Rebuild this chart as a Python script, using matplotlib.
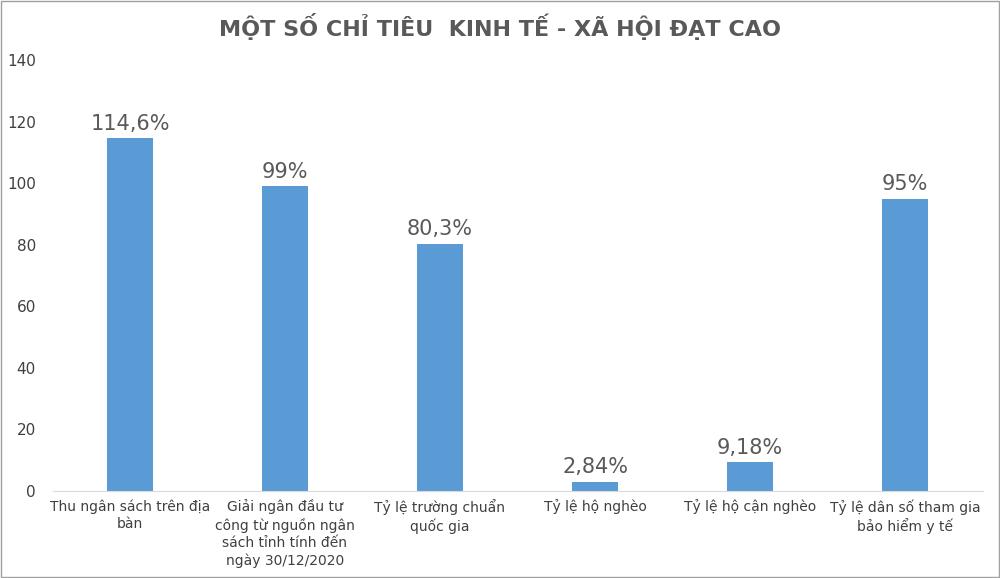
import matplotlib
matplotlib.use("Agg")
import matplotlib.pyplot as plt
from matplotlib.patches import Rectangle

categories = ["Thu ngân sách trên địa\nbàn",
              "Giải ngân đầu tư\ncông từ nguồn ngân\nsách tỉnh tính đến\nngày 30/12/2020",
              "Tỷ lệ trường chuẩn\nquốc gia",
              "Tỷ lệ hộ nghèo",
              "Tỷ lệ hộ cận nghèo",
              "Tỷ lệ dân số tham gia\nbảo hiểm y tế"]
values = [114.6, 99, 80.3, 2.84, 9.18, 95]
labels = ["114,6%", "99%", "80,3%", "2,84%", "9,18%", "95%"]
yticks = [0, 20, 40, 60, 80, 100, 120, 140]

plt.rcParams['font.family'] = ['DejaVu Sans']
fig = plt.figure(figsize=(10, 5.78), dpi=100)
fig.patches.append(Rectangle((0.001, 0.001), 0.998, 0.998, transform=fig.transFigure,
                             fill=False, edgecolor='#a0a0a0', lw=1))
ax = fig.add_axes([0.0525, 0.151, 0.93, 0.745])
x = range(len(values))
ax.bar(x, values, width=0.30, color='#5b9bd5')
for i, (v, l) in enumerate(zip(values, labels)):
    ax.text(i, v + 1.5, l, ha='center', va='bottom', fontsize=15, color='#595959')
ax.set_xlim(-0.5, 5.5)
ax.set_ylim(0, 140)
ax.set_yticks(yticks)
ax.set_xticks(list(x))
ax.set_xticklabels(categories, fontsize=10, color='#404040', va='top', linespacing=1.3)
ax.tick_params(axis='y', labelsize=11, colors='#404040', length=0, pad=12)
ax.tick_params(axis='x', length=0, pad=6)
for s in ['top', 'right', 'left']:
    ax.spines[s].set_visible(False)
ax.spines['bottom'].set_color('#d9d9d9')
fig.text(0.5, 0.955, "MỘT SỐ CHỈ TIÊU  KINH TẾ - XÃ HỘI ĐẠT CAO", ha='center', va='center',
         fontsize=16, fontweight='bold', color='#595959')
fig.savefig("out.png", dpi=100)
